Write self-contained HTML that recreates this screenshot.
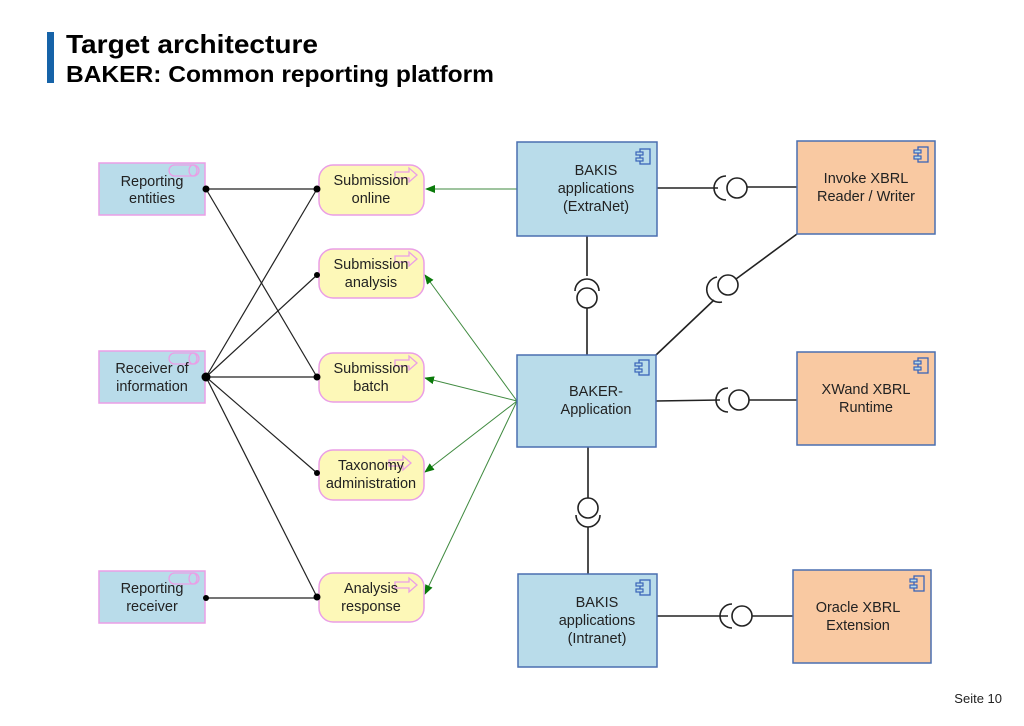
<!DOCTYPE html>
<html><head><meta charset="utf-8"><style>
html,body{margin:0;padding:0;background:#fff;}
body{width:1024px;height:721px;overflow:hidden;position:relative;font-family:"Liberation Sans",Arial,sans-serif;}
</style></head><body>
<svg width="1024" height="721" viewBox="0 0 1024 721" xmlns="http://www.w3.org/2000/svg" font-family="Liberation Sans, Arial, sans-serif">
<defs>
<marker id="ga" markerWidth="10" markerHeight="8" refX="9" refY="4" orient="auto" markerUnits="userSpaceOnUse"><path d="M0,0 L10,4 L0,8 z" fill="#0a7a0a"/></marker>
<g id="comp"><rect x="4" y="0" width="10" height="15" fill="none" stroke="#3a64b8" stroke-width="1.3"/><rect x="0" y="3" width="7" height="3" fill="#b9dcea" stroke="#3a64b8" stroke-width="1.2"/><rect x="0" y="9" width="7" height="3" fill="#b9dcea" stroke="#3a64b8" stroke-width="1.2"/></g>
<g id="role"><rect x="0" y="0" width="30" height="11" rx="5.5" fill="none" stroke="#ea9ee6" stroke-width="1.3"/><ellipse cx="24" cy="5.5" rx="4" ry="5.5" fill="none" stroke="#ea9ee6" stroke-width="1.3"/></g>
<g id="proc"><path d="M0,4 H14 V0 L22,7 L14,14 V10 H0 z" fill="none" stroke="#ea9ee6" stroke-width="1.3"/></g>
</defs>
<rect x="47" y="32" width="7" height="51" fill="#1663a8"/>
<text x="66" y="53" font-size="26" font-weight="bold" fill="#000" textLength="252" lengthAdjust="spacingAndGlyphs">Target architecture</text>
<text x="66" y="82" font-size="23" font-weight="bold" fill="#000" textLength="428" lengthAdjust="spacingAndGlyphs">BAKER: Common reporting platform</text>

<!-- black connectors -->
<g stroke="#222" stroke-width="1.2" fill="none">
<line x1="206" y1="189" x2="317" y2="189"/>
<line x1="206" y1="189" x2="317" y2="377"/>
<line x1="206" y1="377" x2="317" y2="189"/>
<line x1="206" y1="377" x2="317" y2="275"/>
<line x1="206" y1="377" x2="317" y2="377"/>
<line x1="206" y1="377" x2="317" y2="473"/>
<line x1="206" y1="377" x2="317" y2="597"/>
<line x1="206" y1="598" x2="317" y2="598"/>
</g>

<!-- green arrows -->
<g stroke="#3f8a3f" stroke-width="1" fill="none" marker-end="url(#ga)">
<line x1="517" y1="189" x2="426" y2="189"/>
<line x1="517" y1="401" x2="425" y2="275"/>
<line x1="517" y1="401" x2="425" y2="378"/>
<line x1="517" y1="401" x2="425" y2="472"/>
<line x1="517" y1="401" x2="425" y2="594"/>
</g>

<g font-size="14.5" fill="#222" text-anchor="middle">
<rect x="99" y="163" width="106" height="52" fill="#b9dcea" stroke="#ea9ee6" stroke-width="1.5"/>
<use href="#role" x="169" y="165"/>
<text x="152" y="186">Reporting</text><text x="152" y="203">entities</text>
<rect x="99" y="351" width="106" height="52" fill="#b9dcea" stroke="#ea9ee6" stroke-width="1.5"/>
<use href="#role" x="169" y="353"/>
<text x="152" y="373">Receiver of</text><text x="152" y="391">information</text>
<rect x="99" y="571" width="106" height="52" fill="#b9dcea" stroke="#ea9ee6" stroke-width="1.5"/>
<use href="#role" x="169" y="573"/>
<text x="152" y="593">Reporting</text><text x="152" y="611">receiver</text>

<rect x="319" y="165" width="105" height="50" rx="14" fill="#fdf8b8" stroke="#ea9ee6" stroke-width="1.5"/>
<use href="#proc" x="395" y="168"/>
<text x="371" y="185">Submission</text><text x="371" y="203">online</text>
<rect x="319" y="249" width="105" height="49" rx="14" fill="#fdf8b8" stroke="#ea9ee6" stroke-width="1.5"/>
<use href="#proc" x="395" y="252"/>
<text x="371" y="269">Submission</text><text x="371" y="287">analysis</text>
<rect x="319" y="353" width="105" height="49" rx="14" fill="#fdf8b8" stroke="#ea9ee6" stroke-width="1.5"/>
<use href="#proc" x="395" y="356"/>
<text x="371" y="373">Submission</text><text x="371" y="391">batch</text>
<rect x="319" y="450" width="105" height="50" rx="14" fill="#fdf8b8" stroke="#ea9ee6" stroke-width="1.5"/>
<use href="#proc" x="389" y="456"/>
<text x="371" y="470">Taxonomy</text><text x="371" y="488">administration</text>
<rect x="319" y="573" width="105" height="49" rx="14" fill="#fdf8b8" stroke="#ea9ee6" stroke-width="1.5"/>
<use href="#proc" x="395" y="578"/>
<text x="371" y="593">Analysis</text><text x="371" y="611">response</text>
</g>

<g fill="#000">
<circle cx="206" cy="189" r="3.5"/><circle cx="206" cy="377" r="4.5"/><circle cx="206" cy="598" r="3"/>
<circle cx="317" cy="189" r="3.5"/><circle cx="317" cy="275" r="3"/><circle cx="317" cy="377" r="3.5"/><circle cx="317" cy="473" r="3"/><circle cx="317" cy="597" r="3.5"/>
</g>

<!-- interface connectors -->
<g stroke="#222" stroke-width="1.6" fill="none">
<line x1="657" y1="188" x2="718" y2="188"/><path d="M726,176 A12,12 0 0 0 726,200"/><circle cx="737" cy="188" r="10"/><line x1="747" y1="187" x2="797" y2="187"/>
<line x1="587" y1="236" x2="587" y2="276"/><path d="M575,291 A12,12 0 0 1 599,291"/><circle cx="587" cy="298" r="10"/><line x1="587" y1="308" x2="587" y2="355"/>
<line x1="656" y1="355" x2="714" y2="300"/><path d="M717,277 A12,12 0 0 0 722,302"/><circle cx="728" cy="285" r="10"/><line x1="736" y1="279" x2="797" y2="234"/>
<line x1="656" y1="401" x2="720" y2="400"/><path d="M728,388 A12,12 0 0 0 728,412"/><circle cx="739" cy="400" r="10"/><line x1="749" y1="400" x2="797" y2="400"/>
<line x1="588" y1="447" x2="588" y2="498"/><circle cx="588" cy="508" r="10"/><path d="M576,515 A12,12 0 0 0 600,515"/><line x1="588" y1="527" x2="588" y2="574"/>
<line x1="657" y1="616" x2="728" y2="616"/><path d="M732,604 A12,12 0 0 0 732,628"/><circle cx="742" cy="616" r="10"/><line x1="752" y1="616" x2="793" y2="616"/>
</g>

<g font-size="14.5" fill="#222" text-anchor="middle">
<rect x="517" y="142" width="140" height="94" fill="#b9dcea" stroke="#4a6fb0" stroke-width="1.5"/>
<use href="#comp" x="636" y="149"/>
<text x="596" y="175">BAKIS</text><text x="596" y="193">applications</text><text x="596" y="211">(ExtraNet)</text>
<rect x="517" y="355" width="139" height="92" fill="#b9dcea" stroke="#4a6fb0" stroke-width="1.5"/>
<use href="#comp" x="635" y="360"/>
<text x="596" y="396">BAKER-</text><text x="596" y="414">Application</text>
<rect x="518" y="574" width="139" height="93" fill="#b9dcea" stroke="#4a6fb0" stroke-width="1.5"/>
<use href="#comp" x="636" y="580"/>
<text x="597" y="607">BAKIS</text><text x="597" y="625">applications</text><text x="597" y="643">(Intranet)</text>
<rect x="797" y="141" width="138" height="93" fill="#f9c9a2" stroke="#4a6fb0" stroke-width="1.5"/>
<use href="#comp" x="914" y="147"/>
<text x="866" y="183">Invoke XBRL</text><text x="866" y="201">Reader / Writer</text>
<rect x="797" y="352" width="138" height="93" fill="#f9c9a2" stroke="#4a6fb0" stroke-width="1.5"/>
<use href="#comp" x="914" y="358"/>
<text x="866" y="394">XWand XBRL</text><text x="866" y="412">Runtime</text>
<rect x="793" y="570" width="138" height="93" fill="#f9c9a2" stroke="#4a6fb0" stroke-width="1.5"/>
<use href="#comp" x="910" y="576"/>
<text x="858" y="612">Oracle XBRL</text><text x="858" y="630">Extension</text>
</g>
<text x="1002" y="703" font-size="13" fill="#222" text-anchor="end">Seite 10</text>
</svg>
</body></html>
